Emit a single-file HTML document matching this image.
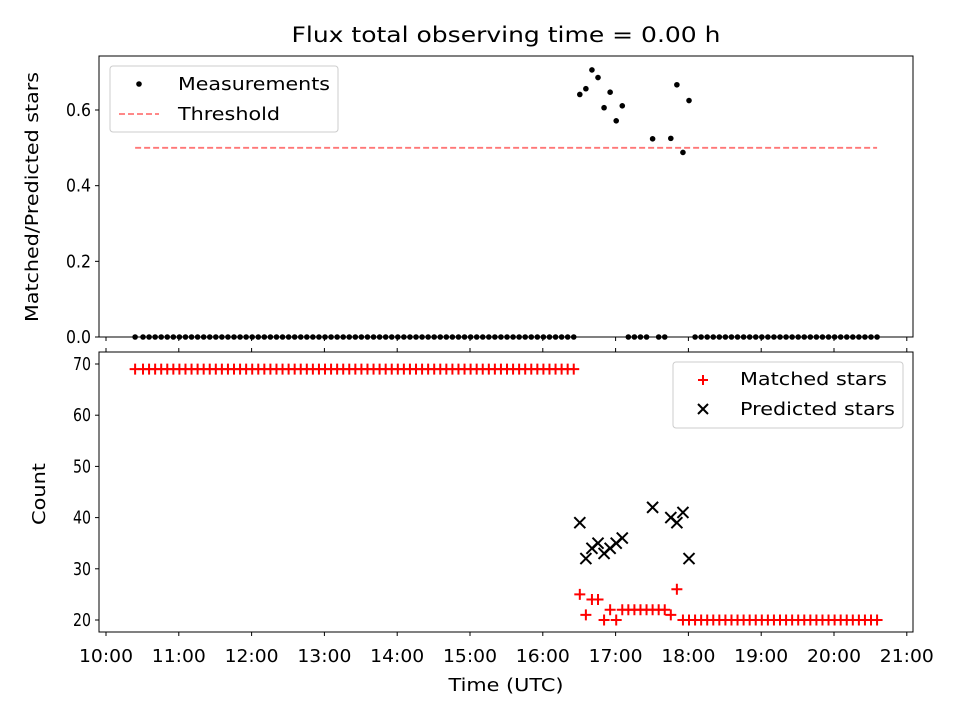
<!DOCTYPE html>
<html><head><meta charset="utf-8"><style>
body{margin:0;background:#fff}
svg{font-family:"DejaVu Sans","Liberation Sans",sans-serif}
</style></head><body>
<svg id="c" width="960" height="720"></svg>
<script>
// data: minutes after 10:00
const firstTime = 24;
const startTime = 30.5, stepMin = 5, nPoints = 122;
const nonzeroTimes = [390.5,395.5,400.5,405.5,410.5,415.5,420.5,425.5,450.5,465.5,470.5,475.5,480.5];
const predicted = [39,32,34,35,33,34,35,36,42,40,39,41,32];
const matchedNZ = [25,21,24,24,20,22,20,22,22,21,26,20,20];
const tickLabels = ["10:00","11:00","12:00","13:00","14:00","15:00","16:00","17:00","18:00","19:00","20:00","21:00"];
const topTicks = [0.0,0.2,0.4,0.6];
const botTicks = [20,30,40,50,60,70];
const threshold = 0.5;

const NS="http://www.w3.org/2000/svg", svg=document.getElementById('c');
function el(t,a,p){const e=document.createElementNS(NS,t);for(const k in a)e.setAttribute(k,a[k]);(p||svg).appendChild(e);return e;}
function tx(a,txt,len,p){a['font-size']=a['font-size']||18;if(len){a.textLength=len;a.lengthAdjust='spacingAndGlyphs';}
 const e=el('text',a,p);e.textContent=txt;return e;}
const X=m=>106+72.8*m/60;
const YT=v=>337-378.33*v;
const YB=v=>620-5.12*(v-20);

const times=[firstTime];for(let i=0;i<nPoints;i++)times.push(startTime+stepMin*i);
const ratio=[],matched=[];
times.forEach(t=>{const k=nonzeroTimes.indexOf(t);
  if(k>=0){ratio.push(matchedNZ[k]/predicted[k]);matched.push(matchedNZ[k]);}
  else{ratio.push(0);matched.push(t<390?69:(t<480?22:20));}});

let t=tx({x:506,y:42,'text-anchor':'middle','font-size':21},"Flux total observing time = 0.00 h",429);


// top axes
const gT=el('g',{});
const th=el('line',{x1:X(firstTime),x2:X(times[times.length-1]),y1:YT(threshold),y2:YT(threshold),stroke:'#f77',
 'stroke-width':1.8,'stroke-dasharray':'6,3'},gT);

times.forEach((tm,i)=>{const c=el('circle',{cx:X(tm),cy:YT(ratio[i]),r:2.8,fill:'#000'},gT);
 });
el('rect',{x:99,y:56,width:814,height:281,fill:'none',stroke:'#000','stroke-width':1},gT);
topTicks.forEach(v=>{el('line',{x1:95,x2:99,y1:YT(v),y2:YT(v),stroke:'#000'},gT);
 const s=tx({x:91,y:YT(v)+6,'text-anchor':'end'},v.toFixed(1),25,gT);
 });
tickLabels.forEach((l,i)=>el('line',{x1:X(i*60),x2:X(i*60),y1:337,y2:341,stroke:'#000'},gT));
t=tx({x:38,y:197,'text-anchor':'middle',transform:'rotate(-90 38 197)'},"Matched/Predicted stars",250,gT);

const lg=el('g',{},gT);
el('rect',{x:110,y:66,width:228,height:66,rx:3,fill:'#fff',stroke:'#ccc'},lg);
el('circle',{cx:139,cy:84,r:2.8,fill:'#000'},lg);
tx({x:178,y:90},"Measurements",152,lg);
el('line',{x1:119,x2:159,y1:114,y2:114,stroke:'#f77','stroke-width':1.8,'stroke-dasharray':'6,3'},lg);
tx({x:178,y:120},"Threshold",102,lg);

// bottom axes
const gB=el('g',{});
times.forEach((tm,i)=>{const x=X(tm),y=YB(matched[i]);
 const p=el('path',{d:`M${x-5.5},${y}H${x+5.5}M${x},${y-5.5}V${y+5.5}`,stroke:'#f00','stroke-width':2},gB);
 });
nonzeroTimes.forEach((tm,i)=>{const x=X(tm),y=YB(predicted[i]);
 const p=el('path',{d:`M${x-5.5},${y-5.5}L${x+5.5},${y+5.5}M${x-5.5},${y+5.5}L${x+5.5},${y-5.5}`,stroke:'#000','stroke-width':2},gB);
 });
el('rect',{x:99,y:352,width:814,height:280,fill:'none',stroke:'#000'},gB);
botTicks.forEach(v=>{el('line',{x1:95,x2:99,y1:YB(v),y2:YB(v),stroke:'#000'},gB);
 const s=tx({x:91,y:YB(v)+6,'text-anchor':'end'},String(v),18,gB);
 });
tickLabels.forEach((l,i)=>{el('line',{x1:X(i*60),x2:X(i*60),y1:632,y2:636,stroke:'#000'},gB);
 el('line',{x1:X(i*60),x2:X(i*60),y1:352,y2:348,stroke:'#000'},gB);
 const s=tx({x:X(i*60),y:662,'text-anchor':'middle'},l,54,gB);
 });
t=tx({x:506,y:691,'text-anchor':'middle'},"Time (UTC)",115,gB);

t=tx({x:45,y:494,'text-anchor':'middle',transform:'rotate(-90 45 494)'},"Count",62,gB);

const lg2=el('g',{},gB);
el('rect',{x:673,y:362,width:230,height:66,rx:3,fill:'#fff',stroke:'#ccc'},lg2);
el('path',{d:'M698,380H708M703,375V385',stroke:'#f00','stroke-width':2},lg2);
tx({x:740,y:385},"Matched stars",147,lg2);
el('path',{d:'M698,404L708,414M698,414L708,404',stroke:'#000','stroke-width':2},lg2);
tx({x:740,y:415},"Predicted stars",155,lg2);
</script>
</body></html>
